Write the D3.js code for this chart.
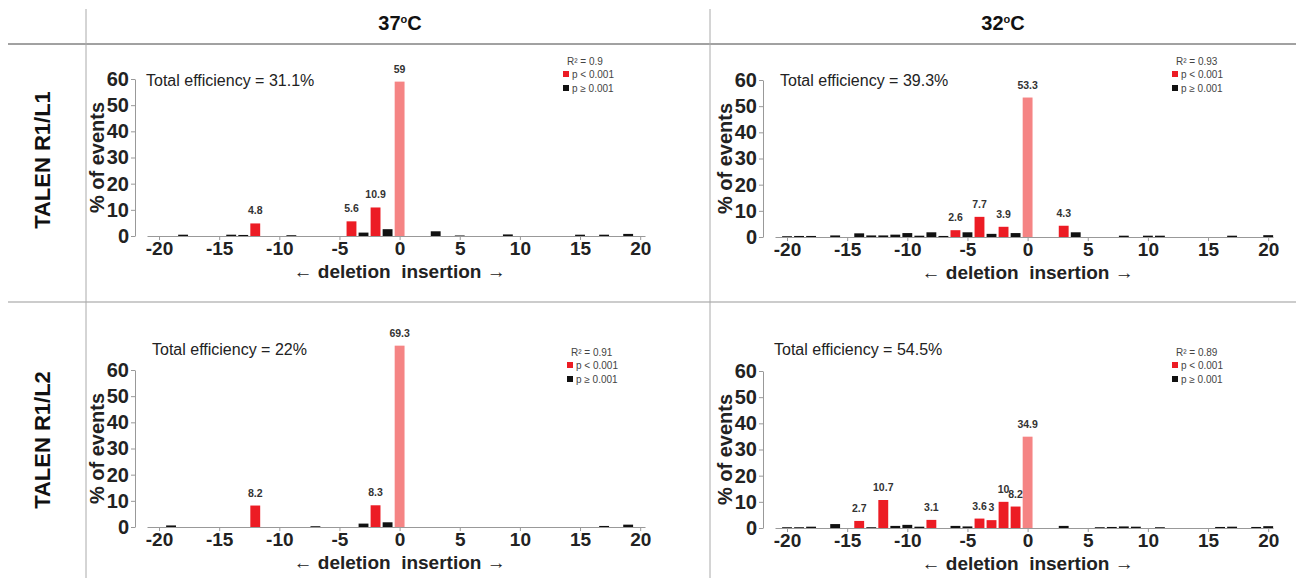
<!DOCTYPE html>
<html>
<head>
<meta charset="utf-8">
<script src="https://cdn.jsdelivr.net/npm/d3@7"></script>
<style>
  body { margin: 0; background: #fff; }
  text { font-family: "Liberation Sans", Arial, sans-serif; }
</style>
</head>
<body>
<script>
// indel size (bp) -> % of events, with significance class
// 's' = p < 0.001 (red), 'n' = p >= 0.001 (black), 'w' = unmodified (pink)
const bars37L1 = [
  [-18, 0.5, 'n'], [-14, 0.5, 'n'], [-13, 0.4, 'n'], [-12, 4.8, 's'], [-9, 0.3, 'n'],
  [-4, 5.6, 's'], [-3, 1.3, 'n'], [-2, 10.9, 's'], [-1, 2.6, 'n'], [0, 59, 'w'],
  [3, 1.8, 'n'], [5, 0.2, 'n'], [9, 0.6, 'n'], [15, 0.5, 'n'], [17, 0.5, 'n'], [19, 0.8, 'n']
];
const bars32L1 = [
  [-20, 0.3, 'n'], [-19, 0.4, 'n'], [-18, 0.4, 'n'], [-16, 0.6, 'n'], [-14, 1.4, 'n'],
  [-13, 0.6, 'n'], [-12, 0.6, 'n'], [-11, 0.9, 'n'], [-10, 1.5, 'n'], [-9, 0.5, 'n'],
  [-8, 1.8, 'n'], [-7, 0.4, 'n'], [-6, 2.6, 's'], [-5, 1.8, 'n'], [-4, 7.7, 's'],
  [-3, 1.2, 'n'], [-2, 3.9, 's'], [-1, 1.5, 'n'], [0, 53.3, 'w'], [3, 4.3, 's'],
  [4, 1.8, 'n'], [8, 0.5, 'n'], [10, 0.5, 'n'], [11, 0.5, 'n'], [17, 0.5, 'n'], [20, 0.7, 'n']
];
const bars37L2 = [
  [-19, 0.6, 'n'], [-12, 8.2, 's'], [-7, 0.3, 'n'], [-3, 1.3, 'n'], [-2, 8.3, 's'],
  [-1, 1.8, 'n'], [0, 69.3, 'w'], [17, 0.4, 'n'], [19, 0.9, 'n']
];
const bars32L2 = [
  [-20, 0.3, 'n'], [-19, 0.3, 'n'], [-18, 0.5, 'n'], [-16, 1.5, 'n'], [-14, 2.7, 's'],
  [-13, 0.3, 'n'], [-12, 10.7, 's'], [-11, 0.8, 'n'], [-10, 1.2, 'n'], [-9, 0.5, 'n'],
  [-8, 3.1, 's'], [-6, 0.8, 'n'], [-5, 0.6, 'n'], [-4, 3.6, 's'], [-3, 3, 's'],
  [-2, 10, 's'], [-1, 8.2, 's'], [0, 34.9, 'w'], [3, 0.8, 'n'], [6, 0.3, 'n'],
  [7, 0.4, 'n'], [8, 0.6, 'n'], [9, 0.5, 'n'], [11, 0.3, 'n'], [16, 0.4, 'n'],
  [17, 0.5, 'n'], [19, 0.4, 'n'], [20, 0.7, 'n']
];

const xTicks = [-20, -15, -10, -5, 0, 5, 10, 15, 20];
const yTicks = [0, 10, 20, 30, 40, 50, 60];
const colTemps = ['37', '32'];
const rowLabels = ['TALEN R1/L1', 'TALEN R1/L2'];
const efficiency = ['31.1%', '39.3%', '22%', '54.5%'];
const rSquared = ['0.9', '0.93', '0.91', '0.89'];

const colors = {s: '#ec1c24', n: '#111111', w: '#f58484'};

const W = 1296, H = 578;
const svg = d3.select('body').append('svg')
  .attr('width', W)
  .attr('height', H);

// table grid
const grid = svg.append('g');
grid.append('line').attr('x1', 8).attr('x2', W).attr('y1', 44).attr('y2', 44)
  .attr('stroke', '#444').attr('stroke-width', 1);
grid.append('line').attr('x1', 8).attr('x2', W).attr('y1', 302).attr('y2', 302)
  .attr('stroke', '#999').attr('stroke-width', 1);
[86, 710].forEach(xp => {
  grid.append('line').attr('x1', xp).attr('x2', xp).attr('y1', 9).attr('y2', H)
    .attr('stroke', '#aaa').attr('stroke-width', 1);
});

// column headers
const colCenters = [400, 1003];
colTemps.forEach((t, i) => {
  const tx = svg.append('text')
    .attr('x', colCenters[i]).attr('y', 30)
    .attr('text-anchor', 'middle')
    .style('font-weight', 'bold').style('font-size', '20px').attr('fill', '#111');
  tx.append('tspan').text(t);
  tx.append('tspan').text('o').attr('dy', -7).style('font-size', '11px');
  tx.append('tspan').text('C').attr('dy', 7);
});

// row headers
const rowCenters = [160, 440];
rowLabels.forEach((r, i) => {
  svg.append('text')
    .attr('transform', `translate(50,${rowCenters[i]}) rotate(-90)`)
    .attr('text-anchor', 'middle')
    .style('font-weight', 'bold').style('font-size', '22px').attr('fill', '#111')
    .text(r);
});

const panels = [
  {data: bars37L1, left: 147, base: 236, eff: efficiency[0], r2: rSquared[0], effX: 146, effY: 86, legX: 563, legY: 61},
  {data: bars32L1, left: 775, base: 237, eff: efficiency[1], r2: rSquared[1], effX: 780, effY: 86, legX: 1172, legY: 61},
  {data: bars37L2, left: 147, base: 527, eff: efficiency[2], r2: rSquared[2], effX: 152, effY: 355, legX: 567, legY: 352},
  {data: bars32L2, left: 775, base: 528, eff: efficiency[3], r2: rSquared[3], effX: 774, effY: 355, legX: 1172, legY: 352}
];

panels.forEach(p => {
  const g = svg.append('g');
  const x = d3.scaleLinear().domain([-21, 20.4]).range([p.left, p.left + 498]);
  const y = d3.scaleLinear().domain([0, 60]).range([p.base, p.base - 157]);
  const bw = (x(1) - x(0)) * 0.82;

  // bars
  g.selectAll('rect.bar').data(p.data).enter().append('rect')
    .attr('class', 'bar')
    .attr('x', d => x(d[0]) - bw / 2)
    .attr('y', d => y(d[1]))
    .attr('width', bw)
    .attr('height', d => p.base - y(d[1]))
    .attr('fill', d => colors[d[2]]);

  // value labels on significant bars
  g.selectAll('text.val').data(p.data.filter(d => d[2] !== 'n')).enter().append('text')
    .attr('class', 'val')
    .attr('x', d => x(d[0]))
    .attr('y', d => y(d[1]) - 9)
    .attr('text-anchor', 'middle')
    .style('font-weight', 'bold').style('font-size', '10.5px').attr('fill', '#333')
    .text(d => d[1]);

  // x axis
  const xa = g.append('g')
    .attr('transform', `translate(0,${p.base})`)
    .call(d3.axisBottom(x).tickValues(xTicks).tickFormat(d => String(d))
      .tickSize(4).tickSizeOuter(0).tickPadding(2));
  xa.select('.domain').attr('stroke', '#999');
  xa.selectAll('.tick line').attr('stroke', '#999');
  xa.selectAll('.tick text')
    .style('font-family', '"Liberation Sans", Arial, sans-serif')
    .style('font-weight', 'bold').style('font-size', '19px').attr('fill', '#222');

  // y axis
  const yx = p.left - 12;
  const ya = g.append('g')
    .attr('transform', `translate(${yx},0)`)
    .call(d3.axisLeft(y).tickValues(yTicks).tickSize(4).tickSizeOuter(0).tickPadding(2));
  ya.select('.domain').attr('stroke', '#999');
  ya.selectAll('.tick line').attr('stroke', '#999');
  ya.selectAll('.tick text')
    .style('font-family', '"Liberation Sans", Arial, sans-serif')
    .style('font-weight', 'bold').style('font-size', '20px').attr('fill', '#222');

  // axis titles
  g.append('text')
    .attr('transform', `translate(${yx - 31},${y(30)}) rotate(-90)`)
    .attr('text-anchor', 'middle')
    .style('font-weight', 'bold').style('font-size', '20px').attr('fill', '#222')
    .text('% of events');
  g.append('text')
    .attr('x', x(0)).attr('y', p.base + 42)
    .attr('text-anchor', 'middle')
    .style('font-weight', 'bold').style('font-size', '19px').attr('fill', '#222')
    .text('\u2190 deletion \u00a0insertion \u2192');

  // efficiency
  g.append('text')
    .attr('x', p.effX).attr('y', p.effY)
    .style('font-size', '16px').attr('fill', '#222')
    .text('Total efficiency = ' + p.eff);

  // legend
  const lg = g.append('g').attr('transform', `translate(${p.legX},${p.legY})`);
  lg.append('text').attr('x', 4).attr('y', 4)
    .style('font-size', '10px').attr('fill', '#444')
    .text('R\u00b2 = ' + p.r2);
  [['s', 'p < 0.001'], ['n', 'p \u2265 0.001']].forEach((it, i) => {
    lg.append('rect').attr('x', 0).attr('y', 10 + i * 14).attr('width', 6).attr('height', 6)
      .attr('fill', colors[it[0]]);
    lg.append('text').attr('x', 9).attr('y', 17 + i * 14)
      .style('font-size', '10px').attr('fill', '#444')
      .text(it[1]);
  });
});
</script>
</body>
</html>
